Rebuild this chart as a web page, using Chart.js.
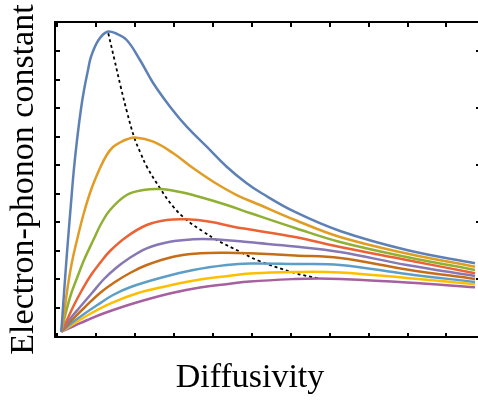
<!DOCTYPE html>
<html>
<head>
<meta charset="utf-8">
<script src="https://cdn.jsdelivr.net/npm/chart.js@4.4.1/dist/chart.umd.min.js"></script>
<style>
  html, body { margin: 0; padding: 0; background: #fff; overflow: hidden; }
  #box { position: absolute; left: 0; top: 0; width: 484px; height: 400px; }
</style>
</head>
<body>
<div id="box"><canvas id="myChart"></canvas></div>
<script>
// curve values, one pair of arrays per curve (x = diffusivity, y = coupling)
var blueX = [0.100, 0.157, 0.213, 0.272, 0.342, 0.422, 0.504, 0.602, 0.684, 0.787, 0.864, 1.057, 1.283, 1.506, 1.781, 2.123, 2.465, 2.895, 3.324, 3.838, 4.352, 4.866, 5.252, 6.108, 7.265, 8.980, 10.735];
var blueY = [0.168, 1.278, 2.329, 3.380, 4.546, 5.832, 6.883, 7.933, 8.634, 9.335, 9.800, 10.385, 10.676, 10.613, 10.385, 9.685, 8.869, 8.049, 7.349, 6.648, 5.947, 5.366, 5.016, 4.361, 3.695, 3.030, 2.564];

var orangeX = [0.100, 0.183, 0.272, 0.375, 0.504, 0.666, 0.864, 1.095, 1.267, 1.429, 1.609, 1.789, 1.995, 2.465, 2.979, 3.494, 4.008, 4.609, 5.208, 6.108, 7.265, 8.980, 10.735];
var orangeY = [0.168, 0.928, 1.804, 2.609, 3.380, 4.256, 5.131, 5.902, 6.357, 6.637, 6.795, 6.907, 6.970, 6.823, 6.417, 5.891, 5.422, 4.956, 4.606, 4.081, 3.485, 2.907, 2.445];

var greenX = [0.100, 0.221, 0.350, 0.504, 0.684, 0.923, 1.121, 1.352, 1.781, 2.208, 2.638, 3.152, 3.666, 4.352, 4.951, 6.108, 7.265, 8.980, 10.735];
var greenY = [0.168, 0.858, 1.489, 2.049, 2.680, 3.380, 3.940, 4.431, 4.956, 5.131, 5.166, 5.061, 4.886, 4.606, 4.326, 3.800, 3.310, 2.785, 2.329];

var redX = [0.100, 0.247, 0.427, 0.632, 0.864, 1.095, 1.352, 1.781, 2.296, 2.810, 3.324, 3.923, 4.522, 4.951, 6.108, 7.265, 8.980, 10.735];
var redY = [0.168, 0.578, 1.103, 1.629, 2.154, 2.574, 2.995, 3.496, 3.905, 4.081, 4.105, 4.021, 3.846, 3.748, 3.485, 3.135, 2.680, 2.214];

var purpleX = [0.100, 0.324, 0.581, 0.889, 1.198, 1.506, 1.781, 2.296, 2.895, 3.494, 4.008, 4.609, 4.951, 6.108, 7.265, 8.980, 10.735];
var purpleY = [0.168, 0.613, 1.033, 1.524, 2.014, 2.399, 2.680, 3.089, 3.320, 3.405, 3.405, 3.345, 3.299, 3.152, 2.960, 2.504, 2.119];

var brownX = [0.100, 0.375, 0.710, 1.095, 1.481, 1.866, 2.296, 2.979, 3.666, 4.352, 4.951, 6.108, 7.265, 8.980, 10.735];
var brownY = [0.168, 0.578, 1.033, 1.524, 1.909, 2.224, 2.504, 2.795, 2.914, 2.935, 2.914, 2.837, 2.750, 2.347, 2.014];

var skyX = [0.100, 0.401, 0.684, 1.026, 1.429, 1.884, 2.638, 3.494, 4.352, 4.951, 6.108, 7.265, 8.980, 10.735];
var skyY = [0.168, 0.508, 0.788, 1.103, 1.454, 1.734, 2.049, 2.329, 2.504, 2.557, 2.539, 2.504, 2.189, 1.909];

var yellowX = [0.100, 0.452, 0.856, 1.370, 2.054, 2.740, 3.666, 4.393, 4.951, 6.108, 7.265, 8.980, 10.735];
var yellowY = [0.168, 0.473, 0.806, 1.163, 1.513, 1.744, 1.996, 2.119, 2.207, 2.259, 2.242, 2.049, 1.828];

var magentaX = [0.100, 0.427, 0.769, 1.198, 1.969, 2.913, 3.666, 4.393, 4.951, 6.108, 6.707, 7.265, 8.980, 10.735];
var magentaY = [0.168, 0.368, 0.578, 0.813, 1.163, 1.513, 1.716, 1.839, 1.926, 2.014, 2.032, 2.014, 1.891, 1.723];

// locus of the maxima
var peakX = [1.308, 1.468, 1.627, 1.789, 1.969, 2.136, 2.303, 2.638, 2.979, 3.324, 3.751, 4.095, 4.694, 5.157, 6.108, 6.707];
var peakY = [10.620, 9.685, 8.749, 7.863, 6.998, 6.427, 5.937, 5.191, 4.546, 4.081, 3.671, 3.380, 2.970, 2.662, 2.224, 2.032];

var xTicks = [0, 1, 2, 3, 4, 5, 6, 7, 8, 9, 10];
var yTicks = [0, 1, 2, 3, 4, 5, 6, 7, 8, 9, 10];

var xTitle = 'Diffusivity';
var yTitle = 'Electron-phonon constant';

function punti(xs, ys) {
    var out = [];
    for (var i = 0; i < xs.length; i++) {
        out.push({ x: xs[i], y: ys[i] });
    }
    return out;
}

function curva(xs, ys, colore) {
    return {
        data: punti(xs, ys),
        borderColor: colore,
        borderWidth: 2.5,
        pointRadius: 0,
        fill: false,
        tension: 0.4
    };
}

// frame, inward ticks and the two axis titles
var cornice = {
    id: 'cornice',
    afterDraw: function(chart) {
        var ctx = chart.ctx;
        var a = chart.chartArea;
        var sx = chart.scales.x;
        var sy = chart.scales.y;
        ctx.save();
        ctx.strokeStyle = '#000';
        ctx.lineWidth = 2;
        ctx.strokeRect(a.left, a.top, a.right - a.left, a.bottom - a.top);

        ctx.beginPath();
        for (var i = 0; i < xTicks.length; i++) {
            var px = Math.round(sx.getPixelForValue(xTicks[i]));
            ctx.moveTo(px, a.bottom);
            ctx.lineTo(px, a.bottom - 4);
            ctx.moveTo(px, a.top);
            ctx.lineTo(px, a.top + 5);
        }
        for (var j = 0; j < yTicks.length; j++) {
            var py = Math.round(sy.getPixelForValue(yTicks[j]));
            ctx.moveTo(a.left, py);
            ctx.lineTo(a.left + 5, py);
            if (yTicks[j] % 2 === 0) {
                ctx.moveTo(a.right, py);
                ctx.lineTo(a.right - 5, py);
            }
        }
        ctx.stroke();

        ctx.fillStyle = '#000';
        ctx.font = '34px "Liberation Serif", "Times New Roman", serif';
        ctx.textAlign = 'center';
        ctx.textBaseline = 'alphabetic';
        ctx.fillText(xTitle, 250, 387);

        ctx.translate(33, (a.top + a.bottom) / 2);
        ctx.rotate(-Math.PI / 2);
        ctx.fillText(yTitle, 0, 0);
        ctx.restore();
    }
};

var ctx = document.getElementById('myChart').getContext('2d');

var myChart = new Chart(ctx, {
    type: 'line',
    data: {
        datasets: [
            curva(blueX, blueY, '#5E81B5'),
            curva(orangeX, orangeY, '#E19C24'),
            curva(greenX, greenY, '#8FB032'),
            curva(redX, redY, '#EB6235'),
            curva(purpleX, purpleY, '#8778B3'),
            curva(brownX, brownY, '#C56E1A'),
            curva(skyX, skyY, '#5D9EC7'),
            curva(yellowX, yellowY, '#FFBF00'),
            curva(magentaX, magentaY, '#A5609D'),
            {
                data: punti(peakX, peakY),
                borderColor: '#000',
                borderWidth: 1.8,
                borderDash: [3, 3],
                pointRadius: 0,
                fill: false,
                tension: 0.4
            }
        ]
    },
    options: {
        responsive: true,
        maintainAspectRatio: false,
        devicePixelRatio: 1,
        animation: false,
        layout: {
            padding: { left: 55, top: 22, right: 3, bottom: 63 }
        },
        plugins: {
            legend: { display: false },
            tooltip: { enabled: false }
        },
        scales: {
            x: { type: 'linear', display: false, min: -0.062, max: 10.889 },
            y: { type: 'linear', display: false, min: -0.0175, max: 11.016 }
        }
    },
    plugins: [cornice]
});
</script>
</body>
</html>
